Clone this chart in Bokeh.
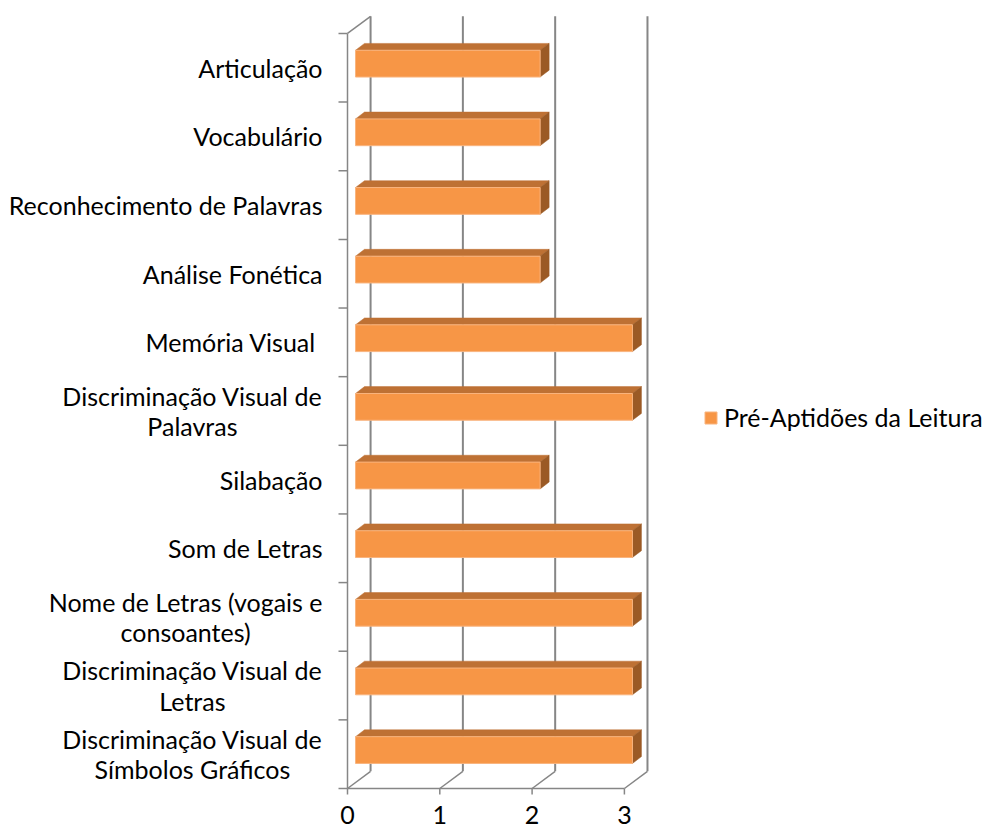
from bokeh.plotting import figure
from bokeh.models import ColumnDataSource, Range1d, Legend, LegendItem
from bokeh.core.properties import value
from bokeh.embed import file_html
from bokeh.resources import INLINE

# ---------------- data ----------------
categories = [
    "Articulação",
    "Vocabulário",
    "Reconhecimento de Palavras",
    "Análise Fonética",
    "Memória Visual ",
    "Discriminação Visual de\nPalavras",
    "Silabação",
    "Som de Letras",
    "Nome de Letras (vogais e\nconsoantes)",
    "Discriminação Visual de\nLetras",
    "Discriminação Visual de\nSímbolos Gráficos",
]
values = [2, 2, 2, 2, 3, 3, 2, 3, 3, 3, 3]
x_ticks = [0, 1, 2, 3]
x_tick_labels = ["0", "1", "2", "3"]
series_name = "Pré-Aptidões da Leitura"

# ---------------- layout ----------------
W, H = 983, 830
X0_PX, X_UNIT = 347, 92.3      # pixel of x=0, pixels per unit
Y0_PX, Y_UNIT = 788, 68.64     # pixel of front floor, pixels per category band
WALL_DX, WALL_DY = 0.25, 0.25  # depth of the chart box
BAR_X0 = 0.087                 # bar front face start
BAR_LO, BAR_HI = 0.365, 0.755  # bar front face within band
BAR_DX, BAR_DY = 0.0975, 0.10  # bar depth
FONT = "Lato"
FONT_SIZE = "25px"
GRID = "#868686"
FRONT, TOP, SIDE = "#F79646", "#BE7134", "#9B5A25"

n = len(categories)
p = figure(width=W, height=H,
           x_range=Range1d(-X0_PX / X_UNIT, (W - X0_PX) / X_UNIT),
           y_range=Range1d(-(H - Y0_PX) / Y_UNIT, Y0_PX / Y_UNIT),
           x_axis_type=None, y_axis_type=None,
           toolbar_location=None, output_backend="svg",
           min_border=0, outline_line_color=None)
p.background_fill_color = "white"
p.border_fill_color = "white"

xmax = max(x_ticks)

# back wall vertical gridlines
p.segment(x0=[t + WALL_DX for t in x_ticks], y0=[WALL_DY] * len(x_ticks),
          x1=[t + WALL_DX for t in x_ticks], y1=[n + WALL_DY] * len(x_ticks),
          line_color=GRID, line_width=2)
# floor diagonals
p.segment(x0=x_ticks, y0=[0] * len(x_ticks),
          x1=[t + WALL_DX for t in x_ticks], y1=[WALL_DY] * len(x_ticks),
          line_color=GRID, line_width=1.5)
# top-left diagonal
p.segment(x0=[0], y0=[n], x1=[WALL_DX], y1=[n + WALL_DY], line_color=GRID, line_width=1.5)
# front axes
p.segment(x0=[0, 0], y0=[0, 0], x1=[0, xmax], y1=[n, 0], line_color=GRID, line_width=1.5)
# left ticks
p.segment(x0=[-9 / X_UNIT] * (n + 1), y0=list(range(n + 1)),
          x1=[0] * (n + 1), y1=list(range(n + 1)), line_color=GRID, line_width=1.5)
# bottom ticks
p.segment(x0=x_ticks, y0=[0] * len(x_ticks), x1=x_ticks, y1=[-6 / Y_UNIT] * len(x_ticks),
          line_color=GRID, line_width=1.5)

# bars
band = [n - 1 - k for k in range(n)]
fl = [BAR_X0] * n
fr = [BAR_X0 + v for v in values]
fb = [b + BAR_LO for b in band]
ft = [b + BAR_HI for b in band]

top_xs = [[l, r, r + BAR_DX, l + BAR_DX] for l, r in zip(fl, fr)]
top_ys = [[t, t, t + BAR_DY, t + BAR_DY] for t in ft]
side_xs = [[r, r, r + BAR_DX, r + BAR_DX] for r in fr]
side_ys = [[b, t, t + BAR_DY, b + BAR_DY] for b, t in zip(fb, ft)]
p.patches(xs=top_xs, ys=top_ys, fill_color=TOP, line_color=TOP, line_width=0.5)
p.patches(xs=side_xs, ys=side_ys, fill_color=SIDE, line_color=SIDE, line_width=0.5)
front = p.quad(left=fl, right=fr, bottom=fb, top=ft,
               fill_color=FRONT, line_color="#F9B47E", line_width=1)

# category labels
src = ColumnDataSource(dict(x=[-25 / X_UNIT] * n, y=[b + 0.5 for b in band], text=categories))
p.text(x="x", y="y", text="text", source=src,
       anchor=value("center_right"), text_align="center", text_baseline="middle",
       text_font=value(FONT), text_font_size=FONT_SIZE, text_color="black",
       text_line_height=1.02)

# x tick labels
p.text(x=x_ticks, y=[-(814 - Y0_PX) / Y_UNIT] * len(x_ticks), text=x_tick_labels,
       text_align="center", text_baseline="middle",
       text_font=value(FONT), text_font_size=FONT_SIZE, text_color="black")

legend = Legend(items=[LegendItem(label=series_name, renderers=[front])],
                location=(703, 398), padding=0, margin=0, spacing=0,
                glyph_width=15, glyph_height=15, label_standoff=6,
                label_text_font=FONT, label_text_font_size=FONT_SIZE,
                label_text_color="black",
                border_line_color=None, background_fill_alpha=0)
p.add_layout(legend)

open("out.html", "w").write(file_html(p, INLINE))
